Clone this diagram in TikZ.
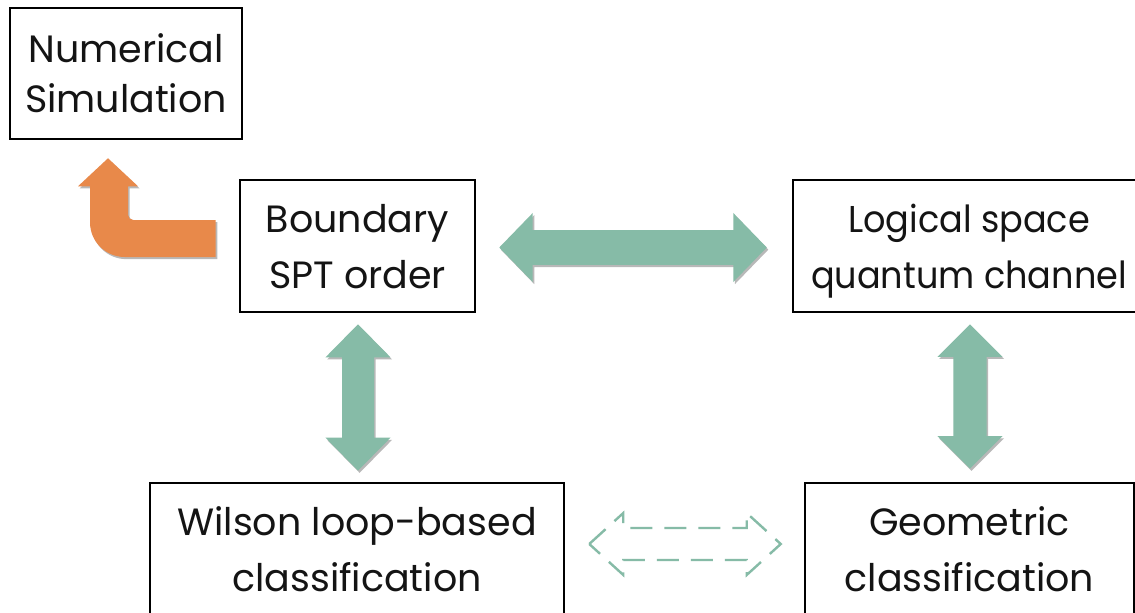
\documentclass[tikz,border=0pt]{standalone}
\usepackage{fontspec}
\setmainfont{Poppins}
\usetikzlibrary{calc,shadows}

\definecolor{linkgreen}{RGB}{134,187,167}
\definecolor{bendorange}{RGB}{232,137,74}
\definecolor{inkblack}{RGB}{20,20,20}

\tikzset{
  box/.style={draw=black, line width=1.9pt, align=center, inner sep=0pt,
    text=inkblack, font=\fontsize{28.5}{42}\selectfont},
  % lead strut sets the first baseline inside the box
  lead/.style={execute at begin node={\rule{0pt}{#1}}},
  softshadow/.style={drop shadow={shadow xshift=1.2pt, shadow yshift=-1.6pt,
    opacity=0.28, fill=black}},
  link/.style={fill=linkgreen, softshadow},
  weaklink/.style={draw=linkgreen, line width=1.8pt, dash pattern=on 16.5pt off 9pt},
  turnarrow/.style={fill=bendorange, softshadow}
}

% block double arrow: #1 style, #2 from, #3 to, #4 shaft half width,
% #5 head half width, #6 head length
\newcommand{\blockarrow}[6]{%
  \path (#2) coordinate (ba-a) (#3) coordinate (ba-b);
  \path ($(ba-a)!#6!(ba-b)$) coordinate (ba-ha)
        ($(ba-b)!#6!(ba-a)$) coordinate (ba-hb);
  \path[#1] (ba-a)
    -- ($(ba-ha)!#5!90:(ba-b)$) -- ($(ba-ha)!#4!90:(ba-b)$)
    -- ($(ba-hb)!#4!90:(ba-b)$) -- ($(ba-hb)!#5!90:(ba-b)$)
    -- (ba-b)
    -- ($(ba-hb)!#5!-90:(ba-b)$) -- ($(ba-hb)!#4!-90:(ba-b)$)
    -- ($(ba-ha)!#4!-90:(ba-b)$) -- ($(ba-ha)!#5!-90:(ba-b)$)
    -- cycle;
}

\begin{document}
\begin{tikzpicture}[x=0.75pt, y=-0.75pt]
  \fill[white] (0,0) rectangle (1135,613);
  \useasboundingbox (0,0) rectangle (1135,613);
  \clip (0,0) rectangle (1135,613);

  % boxes
  \node[box, font=\fontsize{28.5}{37.5}\selectfont,
        minimum width=174pt, minimum height=98.25pt] (numerical) at (126,73.5)
    {Numerical\\Simulation};
  \node[box, lead=30.75pt, text depth=-4.5pt,
        minimum width=176.25pt, minimum height=99pt] (boundary) at (357.5,246)
    {Boundary\\SPT order};
  \node[box, lead=30.75pt, text depth=-2.25pt,
        font=\fontsize{28}{42}\selectfont\addfontfeature{FakeStretch=0.94},
        minimum width=264pt, minimum height=99pt] (logical) at (969,246)
    {Logical space\\quantum channel};
  \node[box, lead=30.75pt, text depth=-4.5pt,
        minimum width=310.5pt, minimum height=99pt] (wilson) at (357,549)
    {Wilson loop-based\\classification};
  \node[box, lead=30.75pt, text depth=-4.5pt,
        minimum width=246.75pt, minimum height=99pt] (geometric) at (969.5,549)
    {Geometric\\classification};

  % green block arrows
  \blockarrow{link}{$(boundary.east)+(23,1.5)$}{$(logical.west)+(-25,1.5)$}{13.1pt}{25.9pt}{25.1pt}
  \blockarrow{link}{$(boundary.south)+(0.5,11)$}{$(wilson.north)+(1,-11)$}{12pt}{24.4pt}{24.8pt}
  \blockarrow{link}{$(logical.south)+(1,11)$}{$(geometric.north)+(0.5,-13)$}{12.4pt}{24.4pt}{24.4pt}
  \blockarrow{weaklink}{$(wilson.east)+(24,-5)$}{$(geometric.west)+(-23,-5)$}{12pt}{23.2pt}{25.5pt}

  % orange bent arrow
  \coordinate (otip) at ($(numerical.south)+(-18,18)$);
  \coordinate (oend) at ($(boundary.west)+(-23,-7.5)$);
  \fill[turnarrow] ($(oend)+(0,-18.5)$)
    [rounded corners=4pt] -- ($(otip |- oend)+(20,-18.5)$)
    [sharp corners] -- ($(otip)+(20,28)$) -- ($(otip)+(30,28)$) -- (otip)
    -- ($(otip)+(-30,28)$) -- ($(otip)+(-18,28)$)
    [rounded corners=26pt] -- ($(otip |- oend)+(-18,18.5)$)
    [sharp corners] -- ($(oend)+(0,18.5)$) -- cycle;
\end{tikzpicture}
\end{document}
